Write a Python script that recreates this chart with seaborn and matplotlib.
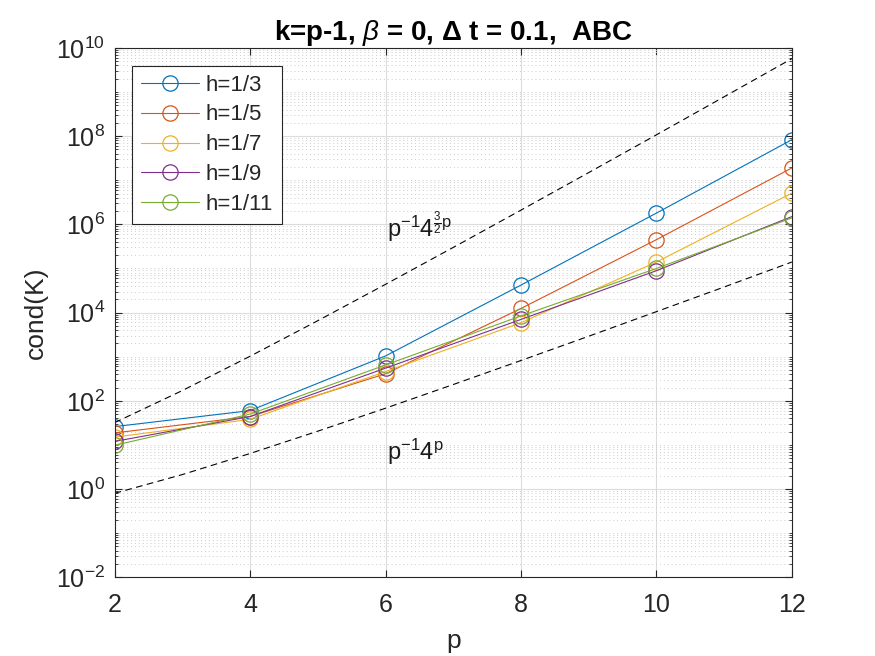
import math
import matplotlib
matplotlib.use("Agg")
import matplotlib.pyplot as plt
import matplotlib.ticker as mticker
import seaborn as sns
import pandas as pd

# p values where cond(K) was computed
p_vals = [2, 4, 6, 8, 10, 12]
h_labels = ['h=1/3', 'h=1/5', 'h=1/7', 'h=1/9', 'h=1/11']
cond_h3 = [26, 60, 1040, 4.2e4, 1.8e6, 8.3e7]
cond_h5 = [18.7, 44, 410, 1.24e4, 4.5e5, 1.9e7]
cond_h7 = [15, 38, 460, 5.9e3, 1.4e5, 5.1e6]
cond_h9 = [12, 44, 550, 7.0e3, 8.9e4, 1.5e6]
cond_h11 = [9.8, 50, 650, 8.4e3, 1.0e5, 1.4e6]

# reference curves read at integer p
p_ref = [2, 3, 4, 5, 6, 7, 8, 9, 10, 11, 12]
ref_upper = [32, 171, 1024, 6550, 4.37e4, 3.0e5, 2.1e6, 1.49e7, 1.07e8, 7.8e8, 5.7e9]
ref_lower = [0.8, 2.13, 6.4, 20.5, 68, 234, 820, 2910, 1.05e4, 3.8e4, 1.4e5]

colors = ['#0072BD', '#D95319', '#EDB120', '#7E2F8E', '#77AC30']

rows = []
for lab, vals in zip(h_labels, [cond_h3, cond_h5, cond_h7, cond_h9, cond_h11]):
    for p, v in zip(p_vals, vals):
        rows.append({'p': p, 'cond': v, 'h': lab})
df = pd.DataFrame(rows)

sns.set_style("ticks")
plt.rcParams['font.family'] = ['Liberation Sans', 'DejaVu Sans']
plt.rcParams['mathtext.fontset'] = 'custom'
plt.rcParams['mathtext.rm'] = 'Liberation Sans'
plt.rcParams['mathtext.it'] = 'Liberation Sans:italic'
plt.rcParams['mathtext.bf'] = 'Liberation Sans:bold'

fig = plt.figure(figsize=(8.75, 6.56), dpi=100)
ax = fig.add_axes([0.131, 0.12, 0.774, 0.807])

for lab, col in zip(h_labels, colors):
    sub = df[df['h'] == lab]
    sns.lineplot(x='p', y='cond', data=sub, ax=ax, color=col, label=lab,
                 marker='o', markersize=11, markerfacecolor='none',
                 markeredgecolor=col, markeredgewidth=0.9, linewidth=0.8)

sns.lineplot(x=p_ref, y=ref_upper, ax=ax, color='black', linewidth=0.8,
             linestyle=(0, (6, 4)), legend=False)
sns.lineplot(x=p_ref, y=ref_lower, ax=ax, color='black', linewidth=0.8,
             linestyle=(0, (6, 4)), legend=False)

ax.set_yscale('log')
ax.set_xlim(2, 12)
ax.set_ylim(1e-2, 1e10)
ax.set_xticks([2, 4, 6, 8, 10, 12])
ax.yaxis.set_major_locator(mticker.FixedLocator([10.0**k for k in range(-2, 11, 2)]))
ax.yaxis.set_minor_locator(mticker.LogLocator(base=10, subs=range(1, 10), numticks=100))
ax.yaxis.set_minor_formatter(mticker.NullFormatter())
ax.yaxis.set_major_formatter(mticker.FuncFormatter(
    lambda v, pos: r'$\mathregular{10^{%d}}$' % round(math.log10(v))))

ax.grid(True, which='major', color='#dcdcdc', linewidth=0.8)
ax.grid(True, which='minor', axis='y', color='#cccccc', linestyle=(0, (1, 3)), linewidth=0.7)
ax.set_axisbelow(True)

ax.tick_params(which='both', direction='in', top=True, right=True, colors='#262626',
               labelsize=18, labelcolor='#262626')
ax.tick_params(axis='x', which='major', pad=11)
ax.tick_params(axis='y', which='major', pad=7)
ax.tick_params(which='major', length=5)
ax.tick_params(which='minor', length=2.5)
for s in ax.spines.values():
    s.set_color('#262626')
    s.set_linewidth(0.8)

ax.text(6.02, 8.5e5, r'$\mathregular{p^{-1}4^{\frac{3}{2}p}}$', fontsize=17,
        ha='left', va='center', color='#1a1a1a')
ax.text(6.02, 7, r'$\mathregular{p^{-1}4^{p}}$', fontsize=17,
        ha='left', va='center', color='#1a1a1a')

ax.set_title(r'k=p-1, $\it{\beta}$ = 0, $\mathregular{\Delta}$ t = 0.1,  ABC',
             fontsize=20, fontweight='bold', color='black', pad=6)
ax.set_xlabel('p', fontsize=19, color='#262626', labelpad=9)
ax.set_ylabel('cond(K)', fontsize=19, color='#262626', labelpad=6)

leg = ax.legend(loc='upper left', fontsize=16, frameon=True, fancybox=False,
                edgecolor='#262626', framealpha=1, borderaxespad=0.8, borderpad=0.4,
                handlelength=2.6, handletextpad=0.3, labelspacing=0.4)
leg.get_frame().set_linewidth(0.8)

fig.savefig('out.png', dpi=100)
